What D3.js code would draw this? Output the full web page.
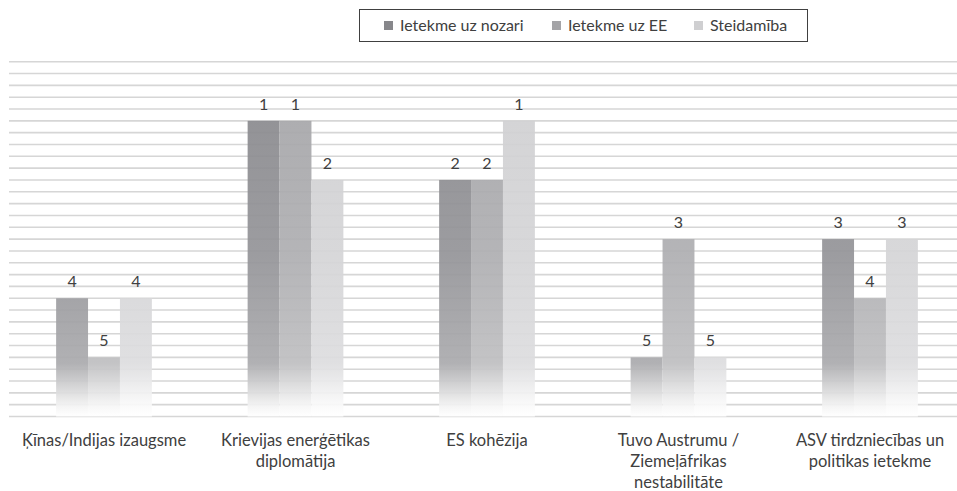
<!DOCTYPE html>
<html><head><meta charset="utf-8">
<script src="https://cdn.jsdelivr.net/npm/d3@7"></script>
<style>
html,body{margin:0;padding:0;background:#fff;}
svg{display:block;font-family:Lato, "Open Sans", sans-serif;}
</style></head>
<body><svg id="chart" width="957" height="491"></svg>
<script>
const categories = ["Ķīnas/Indijas izaugsme", "Krievijas enerģētikas\ndiplomātija", "ES kohēzija", "Tuvo Austrumu /\nZiemeļāfrikas\nnestabilitāte", "ASV tirdzniecības un\npolitikas ietekme"];
const seriesNames = ["Ietekme uz nozari", "Ietekme uz EE", "Steidamība"];
const ietekmeNozari = [4, 1, 2, 5, 3];
const ietekmeEE = [5, 1, 2, 3, 4];
const steidamiba = [4, 2, 1, 5, 3];
const seriesValues = [ietekmeNozari, ietekmeEE, steidamiba];
const colors = ["#87878b", "#a4a4a7", "#cfcfd1"];

const svg = d3.select("#chart");
const W = 957, H = 491;
const plotTop = 61.7, base = 416.5;
const y = d3.scaleLinear().domain([0, 6]).range([plotTop, base]);
const x0 = d3.scaleBand().domain(categories).range([8.25, 965.75]).paddingInner(0.5).paddingOuter(0.25);
const x1 = d3.scaleBand().domain(seriesNames).range([0, x0.bandwidth()]);

const defs = svg.append("defs");
colors.forEach((c, i) => {
  const g = defs.append("linearGradient").attr("id", "g" + i)
    .attr("gradientUnits", "userSpaceOnUse")
    .attr("x1", 0).attr("x2", 0).attr("y1", plotTop).attr("y2", base);
  const c2 = d3.interpolateRgb(c, "#ffffff");
  g.append("stop").attr("offset", 0).attr("stop-color", c);
  g.append("stop").attr("offset", 0.55).attr("stop-color", c2(0.12));
  g.append("stop").attr("offset", 0.85).attr("stop-color", c2(0.3));
  g.append("stop").attr("offset", 0.97).attr("stop-color", c2(0.9));
  g.append("stop").attr("offset", 1).attr("stop-color", "#ffffff");
});

// gridlines
const ticks = y.ticks(30);
svg.append("g").selectAll("line").data(ticks).join("line")
  .attr("x1", 9).attr("x2", W)
  .attr("y1", d => y(d)).attr("y2", d => y(d))
  .attr("stroke", "#d6d6d6").attr("stroke-width", 1.6);

// bars
const groups = svg.append("g").selectAll("g").data(categories).join("g")
  .attr("transform", d => `translate(${x0(d)},0)`);
groups.selectAll("rect").data((d, ci) => seriesNames.map((s, si) => ({s, si, v: seriesValues[si][ci]})))
  .join("rect")
  .attr("x", d => x1(d.s)).attr("width", x1.bandwidth())
  .attr("y", d => y(d.v)).attr("height", d => base - y(d.v))
  .attr("fill", d => `url(#g${d.si})`).attr("fill-opacity", 0.93);
groups.selectAll("text").data((d, ci) => seriesNames.map((s, si) => ({s, si, v: seriesValues[si][ci]})))
  .join("text")
  .attr("x", d => x1(d.s) + x1.bandwidth() / 2).attr("y", d => y(d.v) - 11)
  .attr("text-anchor", "middle").attr("font-size", 16).attr("fill", "#404040")
  .text(d => d.v);

// category labels
const cl = svg.append("g").selectAll("text").data(categories).join("text")
  .attr("x", d => x0(d) + x0.bandwidth() / 2).attr("y", 446)
  .attr("text-anchor", "middle").attr("font-size", 16.5).attr("fill", "#404040");
cl.each(function(d) {
  const t = d3.select(this);
  d.split("\n").forEach((line, i) => {
    t.append("tspan").attr("x", x0(d) + x0.bandwidth() / 2).attr("dy", i === 0 ? 0 : 21).text(line);
  });
});

// legend
const lg = svg.append("g");
lg.append("rect").attr("x", 359.5).attr("y", 9.5).attr("width", 448).attr("height", 32)
  .attr("fill", "#fff").attr("stroke", "#404040").attr("stroke-width", 1);
const legX = [384, 552, 694];
seriesNames.forEach((s, i) => {
  lg.append("rect").attr("x", legX[i]).attr("y", 21).attr("width", 9).attr("height", 9).attr("fill", colors[i]);
  lg.append("text").attr("x", legX[i] + 16).attr("y", 31).attr("font-size", 16).attr("fill", "#404040").text(s);
});
</script></body></html>
